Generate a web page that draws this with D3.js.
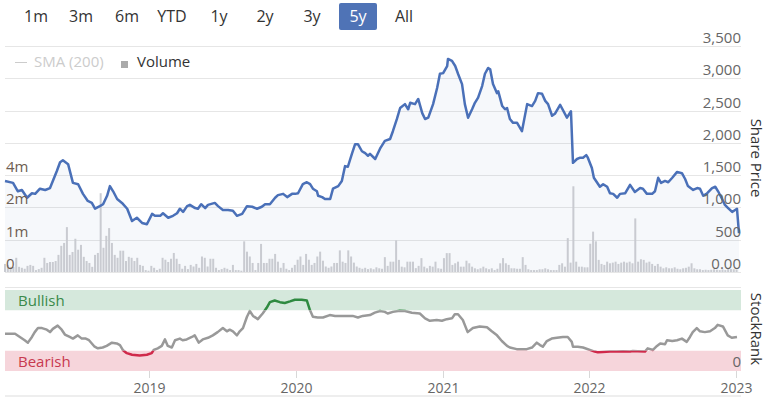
<!DOCTYPE html>
<html>
<head>
<meta charset="utf-8">
<script src="https://cdn.jsdelivr.net/npm/d3@7"></script>
<style>
  html, body { margin: 0; padding: 0; background: #fff; }
  svg { display: block; font-family: 'Open Sans', sans-serif; }
</style>
</head>
<body>
<svg width="766" height="397"></svg>
<script>
// Range selector
const rangeButtons = ['1m', '3m', '6m', 'YTD', '1y', '2y', '3y', '5y', 'All'];
const selectedRange = '5y';

// Share price (weekly-ish)
const priceDates = [
  '2018-01-08','2018-01-28','2018-02-09','2018-02-19','2018-03-04','2018-03-16','2018-03-24','2018-04-05','2018-04-18','2018-04-30',
  '2018-05-07','2018-05-17','2018-05-25','2018-06-01','2018-06-14','2018-06-26','2018-07-09','2018-07-21','2018-08-02','2018-08-12',
  '2018-08-20','2018-09-01','2018-09-09','2018-09-19','2018-09-26','2018-10-04','2018-10-14','2018-10-26','2018-11-08','2018-11-20',
  '2018-12-02','2018-12-15','2018-12-27','2019-01-09','2019-01-16','2019-01-29','2019-02-05','2019-02-18','2019-03-02','2019-03-12',
  '2019-03-19','2019-03-27','2019-04-06','2019-04-13','2019-04-26','2019-05-03','2019-05-11','2019-05-21','2019-05-28','2019-06-14',
  '2019-06-22','2019-07-04','2019-07-17','2019-07-29','2019-08-08','2019-08-21','2019-09-02','2019-09-15','2019-09-27','2019-10-09',
  '2019-10-17','2019-10-29','2019-11-11','2019-11-18','2019-12-01','2019-12-11','2019-12-23','2019-12-31','2020-01-07','2020-01-19',
  '2020-01-29','2020-02-06','2020-02-13','2020-02-23','2020-02-26','2020-03-07','2020-03-14','2020-03-27','2020-04-03','2020-04-16',
  '2020-04-25','2020-05-03','2020-05-10','2020-05-20','2020-05-28','2020-06-04','2020-06-14','2020-06-22','2020-06-29','2020-07-04',
  '2020-07-17','2020-07-29','2020-08-10','2020-08-23','2020-08-30','2020-09-09','2020-09-17','2020-09-29','2020-10-07','2020-10-12',
  '2020-10-24','2020-11-01','2020-11-11','2020-11-18','2020-11-26','2020-12-08','2020-12-18','2020-12-25','2021-01-02','2021-01-12',
  '2021-01-14','2021-01-24','2021-02-01','2021-02-08','2021-02-18','2021-02-25','2021-03-05','2021-03-15','2021-03-22','2021-03-30',
  '2021-04-09','2021-04-16','2021-04-24','2021-04-29','2021-05-06','2021-05-16','2021-05-19','2021-05-29','2021-06-05','2021-06-10',
  '2021-06-17','2021-06-25','2021-07-05','2021-07-17','2021-07-30','2021-08-11','2021-08-19','2021-08-26','2021-09-05','2021-09-13',
  '2021-09-20','2021-09-30','2021-10-07','2021-10-20','2021-11-06','2021-11-16','2021-11-21','2021-12-01','2021-12-09','2021-12-16',
  '2021-12-24','2021-12-28','2022-01-07','2022-01-12','2022-01-27','2022-02-04','2022-02-14','2022-02-21','2022-03-01','2022-03-11',
  '2022-03-18','2022-03-31','2022-04-12','2022-04-24','2022-05-07','2022-05-14','2022-05-24','2022-06-06','2022-06-13','2022-06-21',
  '2022-06-28','2022-07-08','2022-07-16','2022-07-26','2022-08-07','2022-08-19','2022-08-27','2022-09-03','2022-09-16','2022-09-26',
  '2022-10-03','2022-10-11','2022-10-21','2022-11-02','2022-11-10','2022-11-17','2022-11-27','2022-12-04','2022-12-12','2022-12-22',
  '2023-01-03','2023-01-08'
];
const priceValues = [
  1410,1380,1250,1270,1150,1220,1210,1290,1270,1300,
  1410,1565,1700,1730,1670,1380,1360,1210,1100,1070,
  980,1020,1050,1180,1330,1250,1130,1070,980,790,
  840,760,740,900,870,870,910,840,870,910,
  980,930,1020,1040,990,980,1050,990,1040,1070,
  1020,960,960,950,870,900,1020,1010,980,1010,
  1050,1050,1150,1190,1210,1160,1210,1210,1220,1360,
  1390,1360,1290,1250,1180,1160,1130,1130,1290,1330,
  1410,1640,1630,1830,1980,1980,1870,1840,1800,1830,
  1750,1910,2030,2060,2180,2370,2540,2600,2520,2620,
  2600,2680,2460,2370,2390,2600,2850,3070,3080,3190,
  3300,3270,3190,3070,2910,2600,2390,2520,2620,2700,
  2880,3070,3160,3140,2910,2770,2800,2570,2520,2540,
  2370,2310,2310,2180,2600,2570,2650,2770,2760,2650,
  2600,2420,2450,2590,2390,2490,1690,1750,1770,1770,
  1810,1770,1610,1460,1320,1360,1320,1220,1210,1150,
  1210,1220,1350,1240,1300,1290,1210,1210,1250,1460,
  1380,1410,1390,1460,1550,1530,1440,1330,1270,1300,
  1290,1180,1220,1300,1320,1250,1130,1040,990,930,
  980,600
];

// Weekly volume, thousands of shares, first week starting 2018-01-08
const volumeStart = '2018-01-08';
const volumeWeekly = [
  250,220,160,160,440,160,130,100,190,220, 190,60,90,130,440,280,310,310,340,530,
  810,900,1390,530,620,1030,690,840,470,340, 280,160,530,590,2880,750,1120,1360,900,530,
  440,660,660,340,470,440,340,440,220,190, 60,40,190,130,60,100,440,380,310,410,
  590,410,250,100,190,90,220,170,250,130, 480,440,170,410,410,130,60,90,130,100,
  60,220,60,60,40,950,630,480,280,60, 280,870,280,280,410,410,560,320,130,280,
  100,60,130,220,380,480,220,560,380,220, 280,480,630,350,170,130,170,280,280,670,
  320,280,670,480,290,170,130,100,130,90, 115,85,145,115,100,460,190,320,320,980,
  375,165,145,320,320,320,120,190,430,165, 115,190,165,320,115,100,430,585,585,220,
  270,320,165,165,350,270,165,115,85,115, 165,115,85,115,60,100,270,430,270,220,
  115,115,100,100,460,220,85,60,60,60, 85,85,115,85,60,60,60,220,270,165,
  1050,290,3310,320,165,165,145,145,875,1250, 950,375,250,220,320,270,290,320,250,290,
  320,290,320,270,1660,320,395,375,290,320, 250,190,250,165,115,145,115,115,145,100,
  85,115,130,165,270,115,85,85,60,70, 60,70,85,70,60,80,60,115,90,85,
  80
];

// StockRank
const rankDates = [
  '2018-01-08','2018-02-02','2018-02-14','2018-02-26','2018-03-06','2018-03-16','2018-03-23','2018-03-31','2018-04-10','2018-04-22',
  '2018-04-30','2018-05-07','2018-05-19','2018-05-29','2018-06-06','2018-06-18','2018-06-26','2018-07-08','2018-07-18','2018-07-28',
  '2018-08-05','2018-08-12','2018-08-19','2018-08-27','2018-09-08','2018-09-18','2018-10-01','2018-10-13','2018-10-21','2018-10-28',
  '2018-11-07','2018-11-20','2018-12-09','2018-12-27','2019-01-08','2019-01-13','2019-01-23','2019-02-02','2019-02-10','2019-02-17',
  '2019-02-27','2019-03-07','2019-03-19','2019-03-26','2019-04-05','2019-04-18','2019-04-25','2019-05-05','2019-05-15','2019-05-28',
  '2019-06-09','2019-06-21','2019-07-04','2019-07-14','2019-07-21','2019-07-29','2019-08-08','2019-08-15','2019-08-23','2019-09-02',
  '2019-09-09','2019-09-17','2019-09-29','2019-10-11','2019-10-21','2019-10-29','2019-11-10','2019-11-23','2019-12-05','2019-12-18',
  '2019-12-30','2020-01-16','2020-01-29','2020-02-05','2020-02-13','2020-02-25','2020-03-09','2020-03-26','2020-04-08','2020-04-28',
  '2020-05-22','2020-06-04','2020-06-16','2020-07-04','2020-07-16','2020-07-29','2020-08-10','2020-08-17','2020-08-30','2020-09-16',
  '2020-09-29','2020-10-16','2020-11-05','2020-11-18','2020-11-30','2020-12-17','2020-12-30','2021-01-11','2021-01-24','2021-01-31',
  '2021-02-08','2021-02-20','2021-03-04','2021-03-17','2021-04-03','2021-04-21','2021-05-03','2021-05-16','2021-05-28','2021-06-10',
  '2021-06-17','2021-07-04','2021-07-29','2021-08-11','2021-08-23','2021-08-31','2021-09-07','2021-09-17','2021-09-29','2021-10-12',
  '2021-10-27','2021-11-08','2021-11-18','2021-11-21','2021-12-03','2021-12-16','2022-01-02','2022-01-14','2022-01-22','2022-02-03',
  '2022-02-21','2022-03-10','2022-03-25','2022-04-12','2022-04-19','2022-05-01','2022-05-19','2022-05-26','2022-06-08','2022-06-18',
  '2022-06-26','2022-07-08','2022-07-13','2022-07-26','2022-08-07','2022-08-19','2022-08-31','2022-09-08','2022-09-15','2022-09-25',
  '2022-10-03','2022-10-15','2022-10-28','2022-11-09','2022-11-16','2022-11-29','2022-12-11','2022-12-21','2023-01-03'
];
const rankValues = [
  46,46,42,38,35,42,48,53,53,51,
  48,52,56,51,45,42,40,44,40,40,
  38,34,30,28,29,31,35,34,32,26,
  22,20,19,20,22,26,28,31,39,31,
  29,38,40,38,39,42,44,35,39,41,
  44,48,53,49,51,49,44,49,53,67,
  74,68,64,71,78,85,87,85,84,86,
  88,88,87,76,67,66,66,69,68,68,
  68,66,68,69,72,74,73,71,73,74.5,
  74,72,71,65,62,63,62,64,65,70,
  70,63,48,53,55,54,49,44,37,31,
  29,27,27,29,35,32,30,37,40,41,
  42,42,36,30,30,29,26,24,23,23.5,
  24,24,24.5,24,24.8,24.5,24,28,26,31,
  34,33,38,37,38,40,36,42,48,53,
  49,48,49,53,57,55,44,41,42
];

// Axis ticks
const priceTicks = [0, 500, 1000, 1500, 2000, 2500, 3000, 3500];
const volumeTicks = [0, 1000, 2000, 4000];
const volumeTickLabels = ['0', '1m', '2m', '4m'];
const yearTicks = ['2019-01-01', '2020-01-01', '2021-01-01', '2022-01-01', '2023-01-01'];
const rankBands = [
  { name: 'Bullish', from: 75, to: 100 },
  { name: 'Bearish', from: 0, to: 25 },
];

// Style values
const plotLeft = 5;
const plotRight = 741;
const gridColor = '#e6e6e6';
const labelColor = '#666666';
const priceColor = '#4a70b8';
const volumeColor = '#c9cbd1';
const rankGrey = '#999999';
const bullColor = '#2f8a40';
const bearColor = '#d02a4b';

const parseDate = d3.timeParse('%Y-%m-%d');
const svg = d3.select('svg');

const x = d3
  .scaleTime()
  .domain([parseDate('2018-01-08'), parseDate('2023-01-13')])
  .range([plotLeft, plotRight]);

const yPrice = d3.scaleLinear().domain([0, 3500]).range([272, 46]);
// volume axis shares the price gridlines at 0 / 500 / 1000 / 1500
const yVolume = d3
  .scaleLinear()
  .domain(volumeTicks)
  .range([yPrice(0), yPrice(500), yPrice(1000), yPrice(1500)]);
const yRank = d3.scaleLinear().domain([0, 100]).range([371, 290]);

// Range selector buttons
const buttonCentres = [36, 81, 127, 172, 219, 265, 312, 358, 404];
const buttons = svg
  .append('g')
  .selectAll('g')
  .data(rangeButtons)
  .enter()
  .append('g');
buttons
  .filter((d) => d === selectedRange)
  .append('rect')
  .attr('x', (d) => buttonCentres[rangeButtons.indexOf(d)] - 19)
  .attr('y', 3)
  .attr('width', 38)
  .attr('height', 27)
  .attr('rx', 2)
  .attr('fill', '#4f73b6');
buttons
  .append('text')
  .attr('x', (d, i) => buttonCentres[i])
  .attr('y', 22)
  .attr('text-anchor', 'middle')
  .attr('font-size', '16px')
  .attr('fill', (d) => (d === selectedRange ? '#fff' : '#333'))
  .text((d) => d);

// Gridlines
svg
  .append('g')
  .selectAll('line')
  .data(priceTicks)
  .enter()
  .append('line')
  .attr('x1', plotLeft)
  .attr('x2', plotRight)
  .attr('y1', (d) => Math.round(yPrice(d)) + 0.5)
  .attr('y2', (d) => Math.round(yPrice(d)) + 0.5)
  .attr('stroke', gridColor)
  .attr('stroke-width', 1);

// Area under price
const pricePoints = priceDates.map((d, i) => ({ date: parseDate(d), value: priceValues[i] }));
svg
  .append('path')
  .datum(pricePoints)
  .attr('fill', 'rgba(74,112,184,0.05)')
  .attr(
    'd',
    d3
      .area()
      .x((d) => x(d.date))
      .y0(yPrice(0))
      .y1((d) => yPrice(d.value))
  );

// Volume bars
const volumePoints = volumeWeekly.map((v, i) => ({
  date: d3.timeWeek.offset(parseDate(volumeStart), i),
  value: v,
}));
svg
  .append('g')
  .selectAll('rect')
  .data(volumePoints)
  .enter()
  .append('rect')
  .attr('x', (d) => x(d.date) - 1)
  .attr('width', 2)
  .attr('y', (d) => yVolume(d.value))
  .attr('height', (d) => yVolume(0) - yVolume(d.value))
  .attr('fill', volumeColor);

// Price line
svg
  .append('path')
  .datum(pricePoints)
  .attr('fill', 'none')
  .attr('stroke', priceColor)
  .attr('stroke-width', 2.5)
  .attr('stroke-linejoin', 'round')
  .attr(
    'd',
    d3
      .line()
      .x((d) => x(d.date))
      .y((d) => yPrice(d.value))
  );

// Price axis labels (right)
svg
  .append('g')
  .selectAll('text')
  .data(priceTicks)
  .enter()
  .append('text')
  .attr('x', plotRight)
  .attr('y', (d) => yPrice(d) - 3)
  .attr('text-anchor', 'end')
  .attr('font-size', '15px')
  .attr('fill', labelColor)
  .text((d) => (d === 0 ? '0.00' : d3.format(',')(d)));

// Volume axis labels (left)
svg
  .append('g')
  .selectAll('text')
  .data(volumeTicks)
  .enter()
  .append('text')
  .attr('x', 6)
  .attr('y', (d) => yVolume(d) - 3)
  .attr('font-size', '15px')
  .attr('fill', '#6e5e52')
  .text((d, i) => volumeTickLabels[i]);

// Legend
const legend = svg.append('g');
legend
  .append('line')
  .attr('x1', 15)
  .attr('x2', 27)
  .attr('y1', 62.5)
  .attr('y2', 62.5)
  .attr('stroke', '#cccccc')
  .attr('stroke-width', 1);
legend
  .append('text')
  .attr('x', 34)
  .attr('y', 67)
  .attr('font-size', '15px')
  .attr('fill', '#cccccc')
  .text('SMA (200)');
legend
  .append('rect')
  .attr('x', 121)
  .attr('y', 61)
  .attr('width', 7)
  .attr('height', 7)
  .attr('fill', '#aaaaaa');
legend
  .append('text')
  .attr('x', 137)
  .attr('y', 67)
  .attr('font-size', '15px')
  .attr('fill', '#333')
  .text('Volume');

// Axis titles
svg
  .append('text')
  .attr('transform', 'translate(756,158) rotate(90)')
  .attr('text-anchor', 'middle')
  .attr('dy', '0.35em')
  .attr('font-size', '15px')
  .attr('fill', '#333')
  .text('Share Price');
svg
  .append('text')
  .attr('transform', 'translate(756,329) rotate(90)')
  .attr('text-anchor', 'middle')
  .attr('dy', '0.35em')
  .attr('font-size', '15px')
  .attr('fill', '#333')
  .text('StockRank');

// StockRank panel
svg
  .append('line')
  .attr('x1', plotLeft)
  .attr('x2', plotRight)
  .attr('y1', 287.5)
  .attr('y2', 287.5)
  .attr('stroke', gridColor);

svg
  .append('g')
  .selectAll('rect')
  .data(rankBands)
  .enter()
  .append('rect')
  .attr('x', plotLeft)
  .attr('width', plotRight - plotLeft)
  .attr('y', (d) => yRank(d.to))
  .attr('height', (d) => yRank(d.from) - yRank(d.to))
  .attr('fill', (d) => (d.name === 'Bullish' ? '#d5e8dc' : '#f6d5db'));

svg
  .append('g')
  .selectAll('text')
  .data(rankBands)
  .enter()
  .append('text')
  .attr('x', 18)
  .attr('y', (d) => (yRank(d.to) + yRank(d.from)) / 2 + 6)
  .attr('font-size', '15px')
  .attr('fill', (d) => (d.name === 'Bullish' ? '#3a8a4a' : '#c8394f'))
  .text((d) => d.name);

// clip zones so the line changes colour at the band edges
const defs = svg.append('defs');
const zones = [
  { id: 'zone-bull', y0: 0, y1: yRank(75), color: bullColor },
  { id: 'zone-mid', y0: yRank(75), y1: yRank(25), color: rankGrey },
  { id: 'zone-bear', y0: yRank(25), y1: 397, color: bearColor },
];
zones.forEach((z) => {
  defs
    .append('clipPath')
    .attr('id', z.id)
    .append('rect')
    .attr('x', 0)
    .attr('y', z.y0)
    .attr('width', 766)
    .attr('height', z.y1 - z.y0);
});

const rankPoints = rankDates.map((d, i) => ({ date: parseDate(d), value: rankValues[i] }));
const rankLine = d3
  .line()
  .x((d) => x(d.date))
  .y((d) => yRank(d.value));
svg
  .append('g')
  .selectAll('path')
  .data(zones)
  .enter()
  .append('path')
  .attr('clip-path', (z) => `url(#${z.id})`)
  .attr('fill', 'none')
  .attr('stroke', (z) => z.color)
  .attr('stroke-width', 2.5)
  .attr('stroke-linejoin', 'round')
  .attr('d', rankLine(rankPoints));

svg
  .append('text')
  .attr('x', plotRight)
  .attr('y', yRank(0) - 4)
  .attr('text-anchor', 'end')
  .attr('font-size', '15px')
  .attr('fill', labelColor)
  .text('0');

// X axis
const xTicks = svg
  .append('g')
  .selectAll('g')
  .data(yearTicks.map(parseDate))
  .enter()
  .append('g')
  .attr('transform', (d) => `translate(${Math.round(x(d)) + 0.5},0)`);
xTicks
  .append('line')
  .attr('y1', 371)
  .attr('y2', 378)
  .attr('stroke', '#d8d8d8');
xTicks
  .append('text')
  .attr('y', 393)
  .attr('text-anchor', 'middle')
  .attr('font-size', '14px')
  .attr('fill', labelColor)
  .text((d) => d3.timeFormat('%Y')(d));

// scrollbar track at the bottom
svg
  .append('rect')
  .attr('x', plotLeft)
  .attr('y', 395)
  .attr('width', plotRight - plotLeft)
  .attr('height', 2)
  .attr('fill', '#eeeeee');
</script>
</body>
</html>
